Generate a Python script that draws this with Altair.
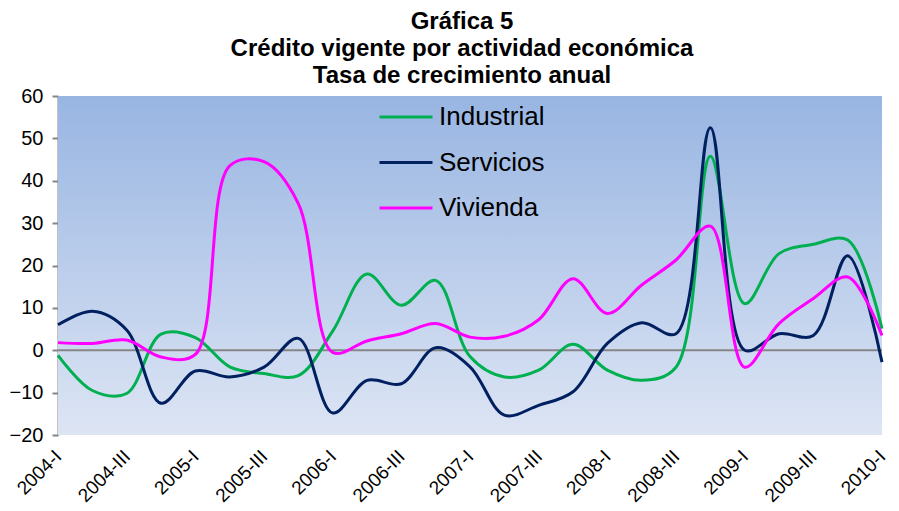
import altair as alt
import pandas as pd

quarters = ["2004-I", "2004-II", "2004-III", "2004-IV",
            "2005-I", "2005-II", "2005-III", "2005-IV",
            "2006-I", "2006-II", "2006-III", "2006-IV",
            "2007-I", "2007-II", "2007-III", "2007-IV",
            "2008-I", "2008-II", "2008-III", "2008-IV",
            "2009-I", "2009-II", "2009-III", "2009-IV",
            "2010-I"]
tick_labels = quarters[::2]
y_ticks = [-20, -10, 0, 10, 20, 30, 40, 50, 60]

series_names = ["Industrial", "Servicios", "Vivienda"]
series_colors = ["#00B050", "#002060", "#FF00FF"]

industrial = [-1.2, -9.5, -10.2, 3.8, 3.0, -3.9, -5.5, -6.0, 4.5, 18.0, 10.6, 16.5,
              -1.5, -6.3, -4.7, 1.4, -4.7, -7.1, -4.0, 45.8, 11.0, 22.8, 25.0, 26.0, 5.1]
servicios = [6.0, 9.2, 4.8, -12.5, -4.9, -6.3, -4.0, 2.8, -14.8, -7.1, -7.9, 0.6,
             -3.9, -15.3, -13.0, -9.8, 1.6, 6.5, 3.9, 52.5, 0.0, 3.9, 3.5, 22.3, -2.8]
vivienda = [1.8, 1.6, 2.4, -1.6, -1.0, 43.5, 44.5, 34.6, -0.5, 2.2, 3.9, 6.3,
            3.1, 3.3, 7.2, 16.9, 8.7, 15.4, 21.3, 29.3, -4.0, 6.3, 12.2, 17.3, 3.5]

rows = []
for name, vals in zip(series_names, [industrial, servicios, vivienda]):
    for q, v in zip(quarters, vals):
        rows.append({"Trimestre": q, "Serie": name, "Valor": v})
df = pd.DataFrame(rows)

W, H = 824, 339
FONT = "Liberation Sans"

bg = alt.Chart(pd.DataFrame({"a": [0]})).mark_rect(
    fill=alt.Gradient(
        gradient="linear",
        stops=[alt.GradientStop(color="#98B5E2", offset=0),
               alt.GradientStop(color="#DDE5F4", offset=1)],
        x1=0, x2=0, y1=0, y2=1,
    )
).encode(x=alt.value(0), x2=alt.value(W), y=alt.value(0), y2=alt.value(H))

zero = alt.Chart(pd.DataFrame({"a": [0]})).mark_rule(
    color="#868686", strokeWidth=2
).encode(y=alt.datum(0))

lines = alt.Chart(df).mark_line(interpolate="catmull-rom", strokeWidth=3).encode(
    x=alt.X(
        "Trimestre:O", sort=quarters,
        scale=alt.Scale(type="point", padding=0),
        axis=alt.Axis(values=tick_labels, title=None, labelAngle=-45,
                      labelAlign="right", labelBaseline="middle",
                      labelFontSize=19, labelFont=FONT, labelColor="black",
                      ticks=False, domain=False, labelPadding=18, labelOffset=0),
    ),
    y=alt.Y(
        "Valor:Q",
        scale=alt.Scale(domain=[-20, 60], nice=False),
        axis=alt.Axis(values=y_ticks, title=None, grid=False,
                      domainColor="#868686", domainWidth=2,
                      tickColor="#868686", tickWidth=2, tickSize=6,
                      labelFontSize=20, labelFont=FONT, labelColor="black",
                      labelPadding=9),
    ),
    color=alt.Color(
        "Serie:N",
        scale=alt.Scale(domain=series_names, range=series_colors),
        legend=alt.Legend(title=None, orient="none", legendX=320, legendY=-7,
                          symbolType="stroke", symbolSize=2809,
                          symbolStrokeWidth=3, labelFontSize=26, labelFont=FONT,
                          labelColor="black", rowPadding=4.5, labelOffset=5,
                          padding=0),
    ),
)

chart = alt.layer(bg, zero, lines).properties(
    width=W, height=H,
    autosize="none",
    padding={"left": 50, "top": 88, "right": 9, "bottom": 75},
    title=alt.TitleParams(
        ["Gráfica 5", "Crédito vigente por actividad económica", "Tasa de crecimiento anual"],
        fontSize=24, font=FONT, fontWeight="bold", lineHeight=27,
        anchor="middle", dx=-8, offset=-2, color="black",
    ),
).configure_view(stroke=None)

chart.save("out.html", embed_options={"renderer": "svg", "actions": False})
